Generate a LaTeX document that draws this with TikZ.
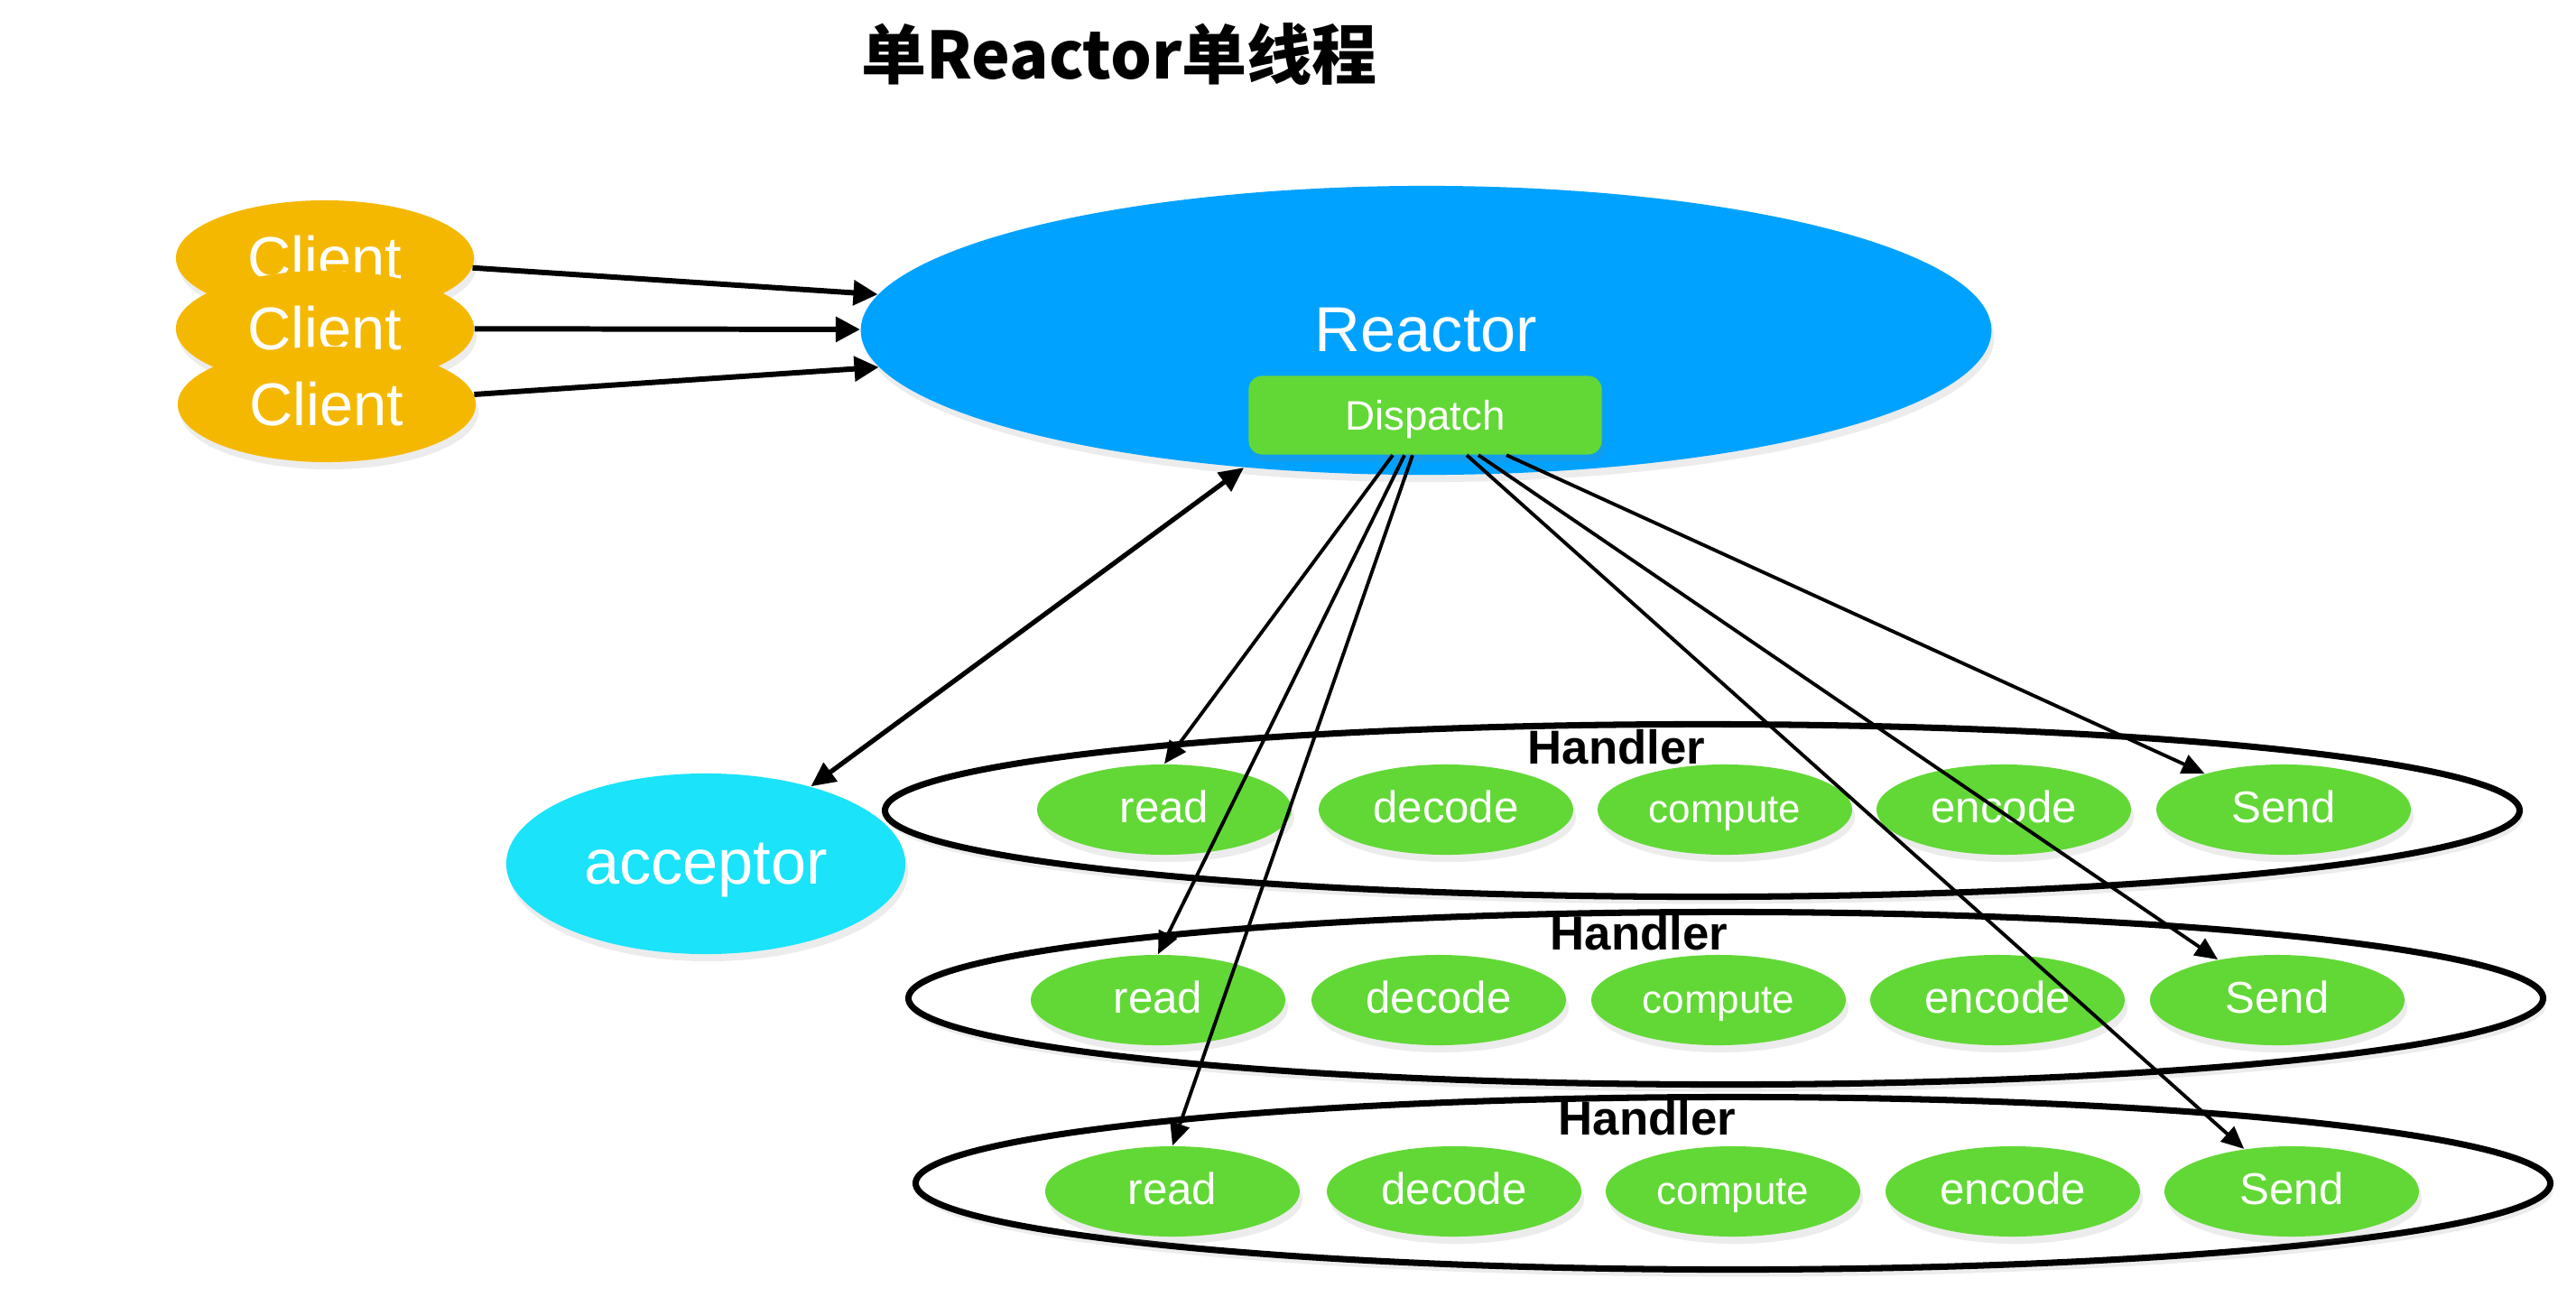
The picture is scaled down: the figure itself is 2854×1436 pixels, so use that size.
\documentclass[tikz,border=0pt]{standalone}
\usepackage{fontspec}
\setmainfont{Liberation Sans}
\newfontfamily\cjk{Noto Sans CJK SC}
\usepackage{tikz}
\usetikzlibrary{arrows.meta,shapes.geometric,shadows}
\definecolor{clientorange}{HTML}{F5B800}
\definecolor{reactorblue}{HTML}{00A2FF}
\definecolor{taskgreen}{HTML}{62D836}
\definecolor{acceptcyan}{HTML}{1AE3FA}
\tikzstyle{softshadow} = [drop shadow={opacity=0.15, shadow xshift=0.3mm, shadow yshift=-0.8mm}]
\tikzstyle{client} = [ellipse, fill=clientorange, softshadow, minimum width=3.3cm, minimum height=1.28cm, inner sep=0pt, text=white, font=\fontsize{19}{19}\selectfont]
\tikzstyle{reactor} = [ellipse, fill=reactorblue, softshadow, minimum width=12.52cm, minimum height=3.2cm, inner sep=0pt, text=white, font=\fontsize{20}{20}\selectfont]
\tikzstyle{dispatch} = [rectangle, rounded corners=1.5mm, fill=taskgreen, softshadow, minimum width=3.91cm, minimum height=0.87cm, inner sep=0pt, text depth=0pt, text=white, font=\fontsize{13}{13}\selectfont]
\tikzstyle{acceptor} = [ellipse, fill=acceptcyan, softshadow, minimum width=4.42cm, minimum height=2cm, inner sep=0pt, text depth=0pt, text=white, font=\fontsize{20}{20}\selectfont]
\tikzstyle{handler} = [ellipse, draw=black, line width=2pt, fill=white, softshadow, minimum width=18.1cm, minimum height=1.91cm, inner sep=0pt]
\tikzstyle{hlabel} = [inner sep=0pt, font=\bfseries\fontsize{15}{15}\selectfont]
\tikzstyle{stage} = [ellipse, fill=taskgreen, softshadow, minimum width=2.82cm, minimum height=1cm, inner sep=0pt, text height=1.8ex, text depth=0.2ex, text=white, font=\fontsize{14}{14}\selectfont]
\tikzstyle{small} = [font=\fontsize{12.5}{12.5}\selectfont]
\tikzstyle{link} = [-{Triangle[length=2.5mm,width=2.2mm]}, line width=1.1pt]
\tikzstyle{biglink} = [-{Triangle[length=2.7mm,width=2.7mm]}, line width=1.7pt]

\begin{document}
\begin{tikzpicture}[x=0.01cm, y=-0.01cm]
\useasboundingbox (0,0) rectangle (2854,1436);

\node (title) at (1240,60) {\cjk\bfseries\fontsize{20.5}{20.5}\selectfont 单Reactor单线程};

\node (reactor) [reactor] at (1580,366) {Reactor};
\node (dispatch) [dispatch] at (1579,460) {Dispatch};

\node (c1) [client] at (360,286) {Client};
\node (c2) [client] at (360,364) {Client};
\node (c3) [client] at (362,448) {Client};

\node (acceptor) [acceptor] at (782,957) {acceptor};

\node (h1) [handler] at (1886,898) {};
\node (h2) [handler] at (1912,1106) {};
\node (h3) [handler] at (1920,1311) {};
\node (h1label) [hlabel] at (1791,828) {Handler};
\node (h2label) [hlabel] at (1816,1034) {Handler};
\node (h3label) [hlabel] at (1825,1239) {Handler};

\node (r1) [stage] at (1290,897) {read};
\node (d1) [stage] at (1602,897) {decode};
\node (p1) [stage, small] at (1911,897) {compute};
\node (e1) [stage] at (2220,897) {encode};
\node (s1) [stage] at (2530,897) {Send};

\node (r2) [stage] at (1283,1108) {read};
\node (d2) [stage] at (1594,1108) {decode};
\node (p2) [stage, small] at (1904,1108) {compute};
\node (e2) [stage] at (2213,1108) {encode};
\node (s2) [stage] at (2523,1108) {Send};

\node (r3) [stage] at (1299,1320) {read};
\node (d3) [stage] at (1611,1320) {decode};
\node (p3) [stage, small] at (1920,1320) {compute};
\node (e3) [stage] at (2230,1320) {encode};
\node (s3) [stage] at (2539,1320) {Send};

\draw [biglink] (c1) -- (reactor);
\draw [biglink] (c2) -- (reactor);
\draw [biglink] (c3) -- (reactor);
\draw [link, line width=1.5pt, {Triangle[length=2.7mm,width=2.5mm]}-{Triangle[length=2.7mm,width=2.5mm]}] (acceptor) -- (reactor.217);

\draw [link] ([xshift=-3.6mm]dispatch.south) -- (r1.north);
\draw [link] ([xshift=-2.3mm]dispatch.south) -- (r2.north);
\draw [link] ([xshift=-1.4mm]dispatch.south) -- (r3.north);
\draw [link] ([xshift=9mm]dispatch.south) -- (s1);
\draw [link] ([xshift=5.9mm]dispatch.south) -- (s2);
\draw [link] ([xshift=4.6mm]dispatch.south) -- (s3);
\end{tikzpicture}
\end{document}
